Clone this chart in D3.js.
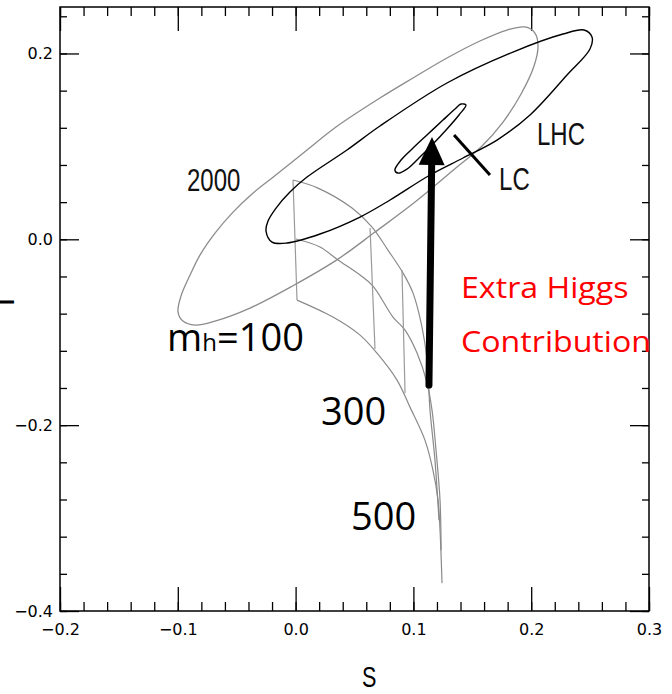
<!DOCTYPE html>
<html>
<head>
<meta charset="utf-8">
<script src="https://cdn.jsdelivr.net/npm/d3@7"></script>
<style>
  html, body { margin: 0; padding: 0; background: #fff; }
  svg { display: block; }
</style>
</head>
<body>
<script>
// ---------- data (S, T) ----------
const xMajorTicks = [-0.2, -0.1, 0.0, 0.1, 0.2, 0.3];
const yMajorTicks = [-0.4, -0.2, 0.0, 0.2];
const xMinorTicks = d3.range(-20, 31, 2).map(v => v / 100);
const yMinorTicks = d3.range(-40, 26, 4).map(v => v / 100);

// 2000 data ellipse (gray)
const ellipse2000 = [
  [-0.0998,-0.0783],[-0.0973,-0.0611],[-0.0896,-0.0385],[-0.0812,-0.0170],
  [-0.0684,0.0067],[-0.0531,0.0293],[-0.0370,0.0488],[-0.0200,0.0660],
  [0.0097,0.0961],[0.0343,0.1208],[0.0716,0.1520],[0.0997,0.1736],
  [0.1285,0.1951],[0.1565,0.2134],[0.1795,0.2252],[0.1947,0.2285],
  [0.2032,0.2220],[0.2058,0.2080],[0.2024,0.1865],[0.1914,0.1564],
  [0.1761,0.1262],[0.1574,0.0993],[0.1370,0.0778],[0.1014,0.0401],
  [0.0674,0.0078],[0.0360,-0.0213],[-0.0030,-0.0505],[-0.0387,-0.0740],
  [-0.0684,-0.0880],[-0.0854,-0.0923],[-0.0956,-0.0880]
];
// LHC ellipse (black)
const ellipseLHC = [
  [-0.0251,0.0089],[-0.0234,0.0197],[-0.0166,0.0336],[-0.0048,0.0509],
  [0.0097,0.0670],[0.0436,0.0961],[0.0716,0.1219],[0.1285,0.1682],
  [0.1845,0.2015],[0.2270,0.2209],[0.2448,0.2252],[0.2516,0.2177],
  [0.2499,0.2048],[0.2304,0.1768],[0.1990,0.1338],[0.1710,0.1068],
  [0.1421,0.0875],[0.1141,0.0692],[0.0802,0.0423],[0.0547,0.0240],
  [0.0207,0.0057],[-0.0073,-0.0040],[-0.0200,-0.0030]
];
// LC ellipse (black, small)
const ellipseLC = [
  [0.0843,0.0745],[0.0895,0.0853],[0.0997,0.0982],[0.1124,0.1133],
  [0.1251,0.1283],[0.1353,0.1402],[0.1404,0.1456],[0.1446,0.1445],
  [0.1387,0.1338],[0.1285,0.1187],[0.1166,0.1025],[0.1047,0.0875],
  [0.0945,0.0756],[0.0869,0.0713]
];
// SM prediction grid: three arcs and constant-mh connecting lines
const smArcA = [
  [-0.0022,0.0638],[0.0190,0.0551],[0.0479,0.0336],[0.0649,0.0132],
  [0.0784,-0.0116],[0.0912,-0.0363],[0.0997,-0.0579],[0.1073,-0.0945],
  [0.1116,-0.1300],[0.1141,-0.1838],[0.1183,-0.2376],[0.1217,-0.3022]
];
const smArcB = [
  [0.0003,0.0003],[0.0207,-0.0083],[0.0360,-0.0223],[0.0547,-0.0385],
  [0.0657,-0.0503],[0.0827,-0.0837],[0.0929,-0.0977],[0.1031,-0.1224],
  [0.1116,-0.1547],[0.1158,-0.1838],[0.1192,-0.2268],[0.1226,-0.2807],
  [0.1235,-0.3345]
];
const smArcC = [
  [0.0012,-0.0654],[0.0317,-0.0837],[0.0547,-0.1031],[0.0691,-0.1225],
  [0.0861,-0.1515],[0.0971,-0.1806],[0.1098,-0.2161],[0.1166,-0.2484],
  [0.1209,-0.2807],[0.1226,-0.3130],[0.1243,-0.3700]
];
const smMh100 = [[-0.0022,0.0638],[0.0012,-0.0654]];
const smMh300 = [[0.0632,0.0121],[0.0674,-0.1181]];
const smMh500 = [[0.0903,-0.0331],[0.0929,-0.1655]];

const arrowFrom = [0.1132,-0.1569];
const arrowTo   = [0.1158, 0.1101];
const lcPointer = [[0.1345,0.1122],[0.1650,0.0692]];

// labels: [text, S, T]
const plotLabels = [["2000",-0.0922,0.0520],["LHC",0.2049,0.1014],["LC",0.1727,0.0530]];
const bigLabels  = [["300",0.0216,-0.2000],["500",0.0470,-0.3130]];
const mhLabel    = ["m","h","=100",-0.1091,-0.1203];
const redLabels  = [["Extra Higgs",0.1404,-0.0632],["Contribution",0.1404,-0.1213]];

// ---------- drawing ----------
const W = 672, H = 694;
const L = 60, R = 649, T = 7, B = 611;
const x = d3.scaleLinear().domain([-0.2, 0.3]).range([L, R]);
const y = d3.scaleLinear().domain([-0.4, 0.25]).range([B, T]);

const svg = d3.select("body").append("svg").attr("width", W).attr("height", H);

const tickFont = "'DejaVu Sans', sans-serif";

function styleAxis(g, fs) {
  g.select(".domain").remove();
  g.selectAll("line").attr("stroke", "#000").attr("stroke-width", 1.3);
  g.selectAll("text").attr("font-family", tickFont).attr("font-size", fs).attr("fill", "#000");
}
const fmt = d => (d < 0 ? "\u2212" : "") + Math.abs(d).toFixed(1);

// bottom
svg.append("g").attr("transform", `translate(0,${B})`)
  .call(d3.axisBottom(x).tickValues(xMinorTicks).tickSize(-9).tickSizeOuter(0).tickFormat(""))
  .call(g => styleAxis(g, 16));
svg.append("g").attr("transform", `translate(0,${B})`)
  .call(d3.axisBottom(x).tickValues(xMajorTicks).tickSize(-24).tickSizeOuter(0).tickPadding(13).tickFormat(fmt))
  .call(g => styleAxis(g, 16));
// top
svg.append("g").attr("transform", `translate(0,${T})`)
  .call(d3.axisTop(x).tickValues(xMinorTicks).tickSize(-9).tickSizeOuter(0).tickFormat(""))
  .call(g => styleAxis(g, 16));
svg.append("g").attr("transform", `translate(0,${T})`)
  .call(d3.axisTop(x).tickValues(xMajorTicks).tickSize(-24).tickSizeOuter(0).tickFormat(""))
  .call(g => styleAxis(g, 16));
// left
svg.append("g").attr("transform", `translate(${L},0)`)
  .call(d3.axisLeft(y).tickValues(yMinorTicks).tickSize(-7).tickSizeOuter(0).tickFormat(""))
  .call(g => styleAxis(g, 16));
svg.append("g").attr("transform", `translate(${L},0)`)
  .call(d3.axisLeft(y).tickValues(yMajorTicks).tickSize(-19).tickSizeOuter(0).tickPadding(7).tickFormat(fmt))
  .call(g => styleAxis(g, 16));
// right
svg.append("g").attr("transform", `translate(${R},0)`)
  .call(d3.axisRight(y).tickValues(yMinorTicks).tickSize(-7).tickSizeOuter(0).tickFormat(""))
  .call(g => styleAxis(g, 16));
svg.append("g").attr("transform", `translate(${R},0)`)
  .call(d3.axisRight(y).tickValues(yMajorTicks).tickSize(-19).tickSizeOuter(0).tickFormat(""))
  .call(g => styleAxis(g, 16));

// frame
svg.append("rect").attr("x", L).attr("y", T).attr("width", R - L).attr("height", B - T)
  .attr("fill", "none").attr("stroke", "#000").attr("stroke-width", 1.5);

// axis titles
svg.append("text").attr("transform", `translate(362,687) scale(0.72,1)`)
  .attr("font-family", "'Liberation Sans', Arial, sans-serif").attr("font-size", 30).text("S");
svg.append("text").attr("transform", `translate(14,302) rotate(-90)`)
  .attr("text-anchor", "middle")
  .attr("font-family", "'Liberation Sans', Arial, sans-serif").attr("font-size", 32).text("T");

const closed = d3.line().x(d => x(d[0])).y(d => y(d[1])).curve(d3.curveCatmullRomClosed.alpha(0.5));
const open = d3.line().x(d => x(d[0])).y(d => y(d[1])).curve(d3.curveCatmullRom.alpha(0.5));
const straight = d3.line().x(d => x(d[0])).y(d => y(d[1]));

const plot = svg.append("g");

// SM grid
[smArcA, smArcB, smArcC].forEach(a => {
  plot.append("path").attr("d", open(a)).attr("fill", "none").attr("stroke", "#8a8a8a").attr("stroke-width", 1.2);
});
[smMh100, smMh300, smMh500].forEach(a => {
  plot.append("path").attr("d", straight(a)).attr("fill", "none").attr("stroke", "#9a9a9a").attr("stroke-width", 1.2);
});

// ellipses
plot.append("path").attr("d", closed(ellipse2000)).attr("fill", "none").attr("stroke", "#8c8c8c").attr("stroke-width", 1.3);
plot.append("path").attr("d", closed(ellipseLHC)).attr("fill", "none").attr("stroke", "#000").attr("stroke-width", 1.4);
plot.append("path").attr("d", closed(ellipseLC)).attr("fill", "none").attr("stroke", "#000").attr("stroke-width", 1.4);

// LC pointer
plot.append("path").attr("d", straight(lcPointer)).attr("stroke", "#000").attr("stroke-width", 3);

// arrow
const ax0 = x(arrowFrom[0]), ay0 = y(arrowFrom[1]), ax1 = x(arrowTo[0]), ay1 = y(arrowTo[1]);
const ang = Math.atan2(ay1 - ay0, ax1 - ax0);
const headLen = 28, headHalf = 13;
const bx = ax1 - headLen * Math.cos(ang), by = ay1 - headLen * Math.sin(ang);
plot.append("line").attr("x1", ax0).attr("y1", ay0).attr("x2", bx).attr("y2", by)
  .attr("stroke", "#000").attr("stroke-width", 7).attr("stroke-linecap", "round");
const px = -Math.sin(ang), py = Math.cos(ang);
plot.append("path")
  .attr("d", `M${ax1},${ay1}L${bx + px * headHalf},${by + py * headHalf}L${bx - px * headHalf},${by - py * headHalf}Z`)
  .attr("fill", "#000");

// labels
plotLabels.forEach(([t, s, v]) => {
  svg.append("text").attr("transform", `translate(${x(s)},${y(v)}) scale(0.75,1)`)
    .attr("font-family", "'Liberation Sans', Arial, sans-serif").attr("font-size", 32).attr("fill", "#111").text(t);
});
bigLabels.forEach(([t, s, v]) => {
  svg.append("text").attr("x", x(s)).attr("y", y(v))
    .attr("font-family", "'Open Sans', sans-serif").attr("font-size", 38).attr("fill", "#000").text(t);
});
const mh = svg.append("text").attr("x", x(mhLabel[3])).attr("y", y(mhLabel[4]))
  .attr("font-family", "'Open Sans', sans-serif").attr("font-size", 38).attr("fill", "#000");
mh.append("tspan").text(mhLabel[0]);
mh.append("tspan").attr("font-size", 24).text(mhLabel[1]);
mh.append("tspan").text(mhLabel[2]);
redLabels.forEach(([t, s, v]) => {
  svg.append("text").attr("transform", `translate(${x(s)},${y(v)}) scale(1.09,1)`)
    .attr("font-family", "'Open Sans', sans-serif").attr("font-size", 29.5).attr("fill", "#ff0000").text(t);
});
</script>
</body>
</html>
